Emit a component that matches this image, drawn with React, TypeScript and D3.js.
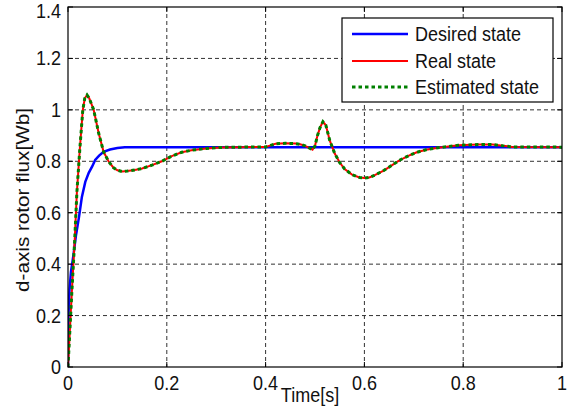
import React from "react";
import * as d3 from "d3";

const X_TICKS = [0, 0.2, 0.4, 0.6, 0.8, 1];
const Y_TICKS = [0, 0.2, 0.4, 0.6, 0.8, 1, 1.2, 1.4];
const X_TICK_LABELS = ["0", "0.2", "0.4", "0.6", "0.8", "1"];
const Y_TICK_LABELS = ["0", "0.2", "0.4", "0.6", "0.8", "1", "1.2", "1.4"];

const T_DESIRED = [0, 0.001, 0.003, 0.006, 0.011, 0.016, 0.022, 0.028, 0.035, 0.042, 0.049, 0.055, 0.063, 0.072, 0.085, 0.1, 0.115, 1.0];
const V_DESIRED = [0, 0.2, 0.3, 0.37, 0.435, 0.51, 0.58, 0.66, 0.72, 0.755, 0.78, 0.805, 0.822, 0.837, 0.846, 0.852, 0.855, 0.855];

const T_REAL = [0, 0.004, 0.008, 0.0135, 0.018, 0.024, 0.03, 0.034, 0.0385, 0.043, 0.047, 0.052, 0.062, 0.072, 0.082, 0.092, 0.1, 0.11, 0.12, 0.135, 0.15, 0.17, 0.19, 0.21, 0.23, 0.25, 0.28, 0.31, 0.35, 0.4, 0.41, 0.42, 0.44, 0.46, 0.47, 0.48, 0.49, 0.495, 0.5, 0.505, 0.51, 0.516, 0.522, 0.53, 0.54, 0.55, 0.56, 0.575, 0.59, 0.6, 0.61, 0.62, 0.64, 0.66, 0.672, 0.69, 0.706, 0.725, 0.746, 0.79, 0.83, 0.86, 0.88, 0.9, 1.0];
const V_REAL = [0, 0.15, 0.3, 0.49, 0.68, 0.85, 1.0, 1.045, 1.058, 1.045, 1.025, 1.0, 0.91, 0.837, 0.8, 0.775, 0.765, 0.76, 0.762, 0.766, 0.772, 0.785, 0.8, 0.82, 0.835, 0.843, 0.85, 0.854, 0.855, 0.856, 0.862, 0.868, 0.87, 0.869, 0.866, 0.86, 0.85, 0.845, 0.86, 0.9, 0.93, 0.954, 0.94, 0.88, 0.83, 0.795, 0.77, 0.748, 0.737, 0.735, 0.737, 0.745, 0.765, 0.79, 0.805, 0.822, 0.835, 0.845, 0.852, 0.862, 0.865, 0.865, 0.86, 0.856, 0.855];

const T_EST = T_REAL;
const V_EST = V_REAL;

const LEGEND_LABELS = ["Desired state", "Real state", "Estimated state"];
const X_LABEL = "Time[s]";
const Y_LABEL = "d-axis rotor flux[Wb]";

const W = 568;
const H = 408;
const L = 68;
const R = 562;
const T = 7;
const B = 367;
const FONT = "'Liberation Sans', Arial, sans-serif";
const SY = 1.1;

export default function App() {
  const x = d3.scaleLinear().domain([0, 1]).range([L, R]);
  const y = d3.scaleLinear().domain([0, 1.4]).range([B, T]);
  const line = d3
    .line<[number, number]>()
    .x((d) => x(d[0]))
    .y((d) => y(d[1]));
  const desired = line(T_DESIRED.map((t, i) => [t, V_DESIRED[i]] as [number, number])) || "";
  const real = line(T_REAL.map((t, i) => [t, V_REAL[i]] as [number, number])) || "";
  const est = line(T_EST.map((t, i) => [t, V_EST[i]] as [number, number])) || "";

  const legend = { x0: 342, y0: 18, x1: 553, y1: 102 };
  const rows = [34, 61, 87];
  const styles = [
    { stroke: "#0000ff", width: 2.5, dash: undefined },
    { stroke: "#ff0000", width: 2, dash: undefined },
    { stroke: "#008000", width: 3, dash: "3.5,3" },
  ];

  return (
    <div style={{ position: "absolute", left: 0, top: 0 }}>
      <svg width={W} height={H} style={{ display: "block", background: "#fff" }}>
        <defs>
          <clipPath id="clip">
            <rect x={L} y={T} width={R - L} height={B - T} />
          </clipPath>
        </defs>
        <rect x={0} y={0} width={W} height={H} fill="#fff" />
        {X_TICKS.slice(1, -1).map((t) => (
          <line key={"gx" + t} x1={x(t)} x2={x(t)} y1={T} y2={B} stroke="#333" strokeWidth={1} strokeDasharray="4,3" />
        ))}
        {Y_TICKS.slice(1, -1).map((t) => (
          <line key={"gy" + t} x1={L} x2={R} y1={y(t)} y2={y(t)} stroke="#333" strokeWidth={1} strokeDasharray="4,3" />
        ))}
        <g clipPath="url(#clip)">
          <path d={desired} fill="none" stroke="#0000ff" strokeWidth={2.5} />
          <path d={real} fill="none" stroke="#ff0000" strokeWidth={2} />
          <path d={est} fill="none" stroke="#008000" strokeWidth={3} strokeDasharray="3.5,3" />
        </g>
        <rect x={L} y={T} width={R - L} height={B - T} fill="none" stroke="#000" strokeWidth={1.2} />
        {X_TICKS.map((t) => (
          <g key={"tx" + t}>
            <line x1={x(t)} x2={x(t)} y1={B} y2={B - 5} stroke="#000" />
            <line x1={x(t)} x2={x(t)} y1={T} y2={T + 5} stroke="#000" />
          </g>
        ))}
        {Y_TICKS.map((t) => (
          <g key={"ty" + t}>
            <line x1={L} x2={L + 5} y1={y(t)} y2={y(t)} stroke="#000" />
            <line x1={R} x2={R - 5} y1={y(t)} y2={y(t)} stroke="#000" />
          </g>
        ))}
        {X_TICKS.map((t, i) => (
          <text key={"lx" + t} transform={`translate(${x(t)},390) scale(1,${SY})`} textAnchor="middle" fontFamily={FONT} fontSize={18} fill="#111">
            {X_TICK_LABELS[i]}
          </text>
        ))}
        {Y_TICKS.map((t, i) => (
          <text key={"ly" + t} transform={`translate(61,${Math.max(y(t) + 7, 18)}) scale(1,${SY})`} textAnchor="end" fontFamily={FONT} fontSize={18} fill="#111">
            {Y_TICK_LABELS[i]}
          </text>
        ))}
        <text transform={`translate(310,402) scale(1,${SY})`} textAnchor="middle" fontFamily={FONT} fontSize={18} fill="#111">
          {X_LABEL}
        </text>
        <text transform={`translate(29,200) scale(1,1.15) rotate(-90)`} textAnchor="middle" fontFamily={FONT} fontSize={18} fill="#111">
          {Y_LABEL}
        </text>
        <rect x={legend.x0} y={legend.y0} width={legend.x1 - legend.x0} height={legend.y1 - legend.y0} fill="#fff" stroke="#000" strokeWidth={1.2} />
        {LEGEND_LABELS.map((lab, i) => (
          <g key={lab}>
            <line x1={352} x2={408} y1={rows[i]} y2={rows[i]} stroke={styles[i].stroke} strokeWidth={styles[i].width} strokeDasharray={styles[i].dash} />
            <text transform={`translate(415,${rows[i] + 7}) scale(1,${SY})`} fontFamily={FONT} fontSize={18} fill="#111">
              {lab}
            </text>
          </g>
        ))}
      </svg>
    </div>
  );
}
